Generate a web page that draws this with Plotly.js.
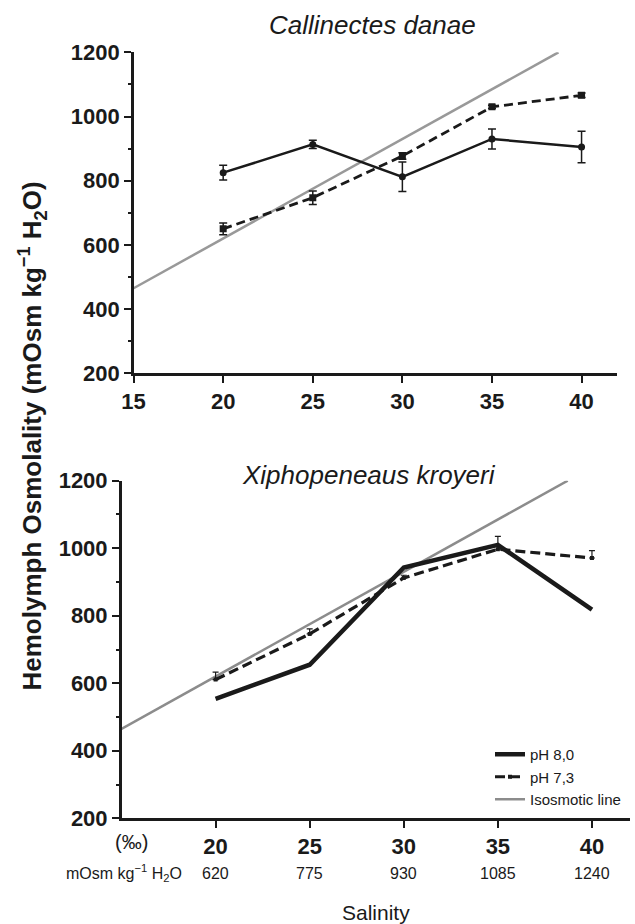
<!DOCTYPE html>
<html>
<head>
<meta charset="utf-8">
<script src="https://cdn.plot.ly/plotly-3.0.1.min.js"></script>
<style>html,body{margin:0;padding:0;background:#fff;}#chart{width:635px;height:924px;}</style>
</head>
<body>
<div id="chart"></div>
<script>
// ---- Data ----
const salinity = [20, 25, 30, 35, 40];
// Callinectes danae
const cdPH80 = [825, 913, 812, 930, 905];
const cdPH80Err = [23, 13, 46, 31, 49];
const cdPH73 = [650, 747, 877, 1030, 1066];
const cdPH73Err = [18, 21, 10, 5, 7];
// Xiphopeneaus kroyeri
const xkPH80 = [554, 655, 943, 1010, 818];
const xkPH73 = [611, 746, 912, 997, 971];
const xkPH73Err = [22, 15, 8, 38, 22];
// Isosmotic line
const isoX = [15, 38.71];
const isoY = [465, 1200];
// Tick labels
const topXTicks = [15, 20, 25, 30, 35, 40];
const botXTicks = [20, 25, 30, 35, 40];
const osmLabels = ['620', '775', '930', '1085', '1240'];
const yTicks = [200, 400, 600, 800, 1000, 1200];

const FONT = 'Liberation Sans, Arial, sans-serif';
const BLACK = '#1a1a1a';
const GREY = '#999999';

const traces = [
  {x: isoX, y: isoY, xaxis: 'x', yaxis: 'y', mode: 'lines', line: {color: GREY, width: 2.5}, showlegend: false, hoverinfo: 'skip'},
  {x: salinity, y: cdPH73, xaxis: 'x', yaxis: 'y', mode: 'lines+markers',
   line: {color: BLACK, width: 2.8, dash: '9px,5px'}, marker: {symbol: 'square', size: 7, color: BLACK},
   error_y: {type: 'data', array: cdPH73Err, visible: true, color: BLACK, thickness: 1.5, width: 4}, showlegend: false},
  {x: salinity, y: cdPH80, xaxis: 'x', yaxis: 'y', mode: 'lines+markers',
   line: {color: BLACK, width: 2.5}, marker: {symbol: 'circle', size: 7, color: BLACK},
   error_y: {type: 'data', array: cdPH80Err, visible: true, color: BLACK, thickness: 1.5, width: 4}, showlegend: false},

  {x: isoX, y: isoY, xaxis: 'x2', yaxis: 'y2', mode: 'lines', name: 'Isosmotic line', legendrank: 3,
   line: {color: '#8c8c8c', width: 2.5}},
  {x: salinity, y: xkPH73, xaxis: 'x2', yaxis: 'y2', mode: 'lines+markers', name: 'pH 7,3', legendrank: 2,
   line: {color: BLACK, width: 3.2, dash: '10px,5px'}, marker: {symbol: 'square', size: 4, color: BLACK},
   error_y: {type: 'data', symmetric: false, array: xkPH73Err, arrayminus: [0,0,0,0,0], visible: true, color: BLACK, thickness: 1.2, width: 3}},
  {x: salinity, y: xkPH80, xaxis: 'x2', yaxis: 'y2', mode: 'lines', name: 'pH 8,0', legendrank: 1,
   line: {color: BLACK, width: 4.5}}
];

const yAxisCommon = {
  range: [200, 1200], tickvals: yTicks, ticks: 'outside', ticklen: 7, tickwidth: 2, tickcolor: BLACK,
  showline: true, linewidth: 2.5, linecolor: BLACK, showgrid: false, zeroline: false,
  tickfont: {family: FONT, size: 22, color: BLACK, weight: 'bold'},
  minor: {ticks: 'outside', ticklen: 3, tickwidth: 2, tickcolor: BLACK, tickvals: [300, 500, 700, 900, 1100], showgrid: false}
};

function ann(o) {
  return Object.assign({showarrow: false, xanchor: 'center', yanchor: 'middle', xref: 'paper', yref: 'paper'}, o);
}

const annotations = [
  ann({text: '<i>Callinectes danae</i>', x: 372.5/635, y: 1 - 25/924, font: {family: FONT, size: 26, color: BLACK}}),
  ann({text: '<i>Xiphopeneaus kroyeri</i>', x: 368.5/635, y: 1 - 475/924, font: {family: FONT, size: 26, color: BLACK}}),
  ann({text: '<b>Hemolymph Osmolality (mOsm kg<sup>\u22121</sup> H<sub>2</sub>O)</b>',
   x: 32/635, y: 1 - 436.5/924, textangle: -90, font: {family: FONT, size: 26, color: BLACK}}),
  ann({text: '(\u2030)', x: 131.7/635, y: 1 - 842/924, font: {family: FONT, size: 20, color: BLACK}}),
  ann({text: 'mOsm kg<sup>\u22121</sup> H<sub>2</sub>O', x: 184/635, y: 1 - 873.3/924, xanchor: 'right',
   font: {family: FONT, size: 16, color: BLACK}}),
  ann({text: 'Salinity', x: 375.5/635, y: 1 - 912/924, font: {family: FONT, size: 21, color: BLACK}})
];
osmLabels.forEach((lab, i) => {
  annotations.push(ann({text: lab, xref: 'x2', x: botXTicks[i], y: 1 - 873.3/924,
    font: {family: FONT, size: 16, color: BLACK}}));
});

const layout = {
  width: 635, height: 924,
  margin: {l: 0, r: 0, t: 0, b: 0},
  paper_bgcolor: '#fff', plot_bgcolor: '#fff',
  font: {family: FONT, color: BLACK},
  xaxis: {
    domain: [133.6/635, 617.4/635], anchor: 'y', range: [15, 42], tickvals: topXTicks,
    ticks: 'outside', ticklen: 7, tickwidth: 2, tickcolor: BLACK,
    showline: true, linewidth: 2.5, linecolor: BLACK, showgrid: false, zeroline: false,
    tickfont: {family: FONT, size: 22, color: BLACK, weight: 'bold'}
  },
  yaxis: Object.assign({}, yAxisCommon, {domain: [1 - 373.3/924, 1 - 52.3/924], anchor: 'x'}),
  xaxis2: {
    domain: [121.5/635, 629.6/635], anchor: 'y2', range: [15, 42], tickvals: botXTicks,
    ticks: 'outside', ticklen: 7, tickwidth: 2, tickcolor: BLACK,
    showline: true, linewidth: 2.5, linecolor: BLACK, showgrid: false, zeroline: false,
    tickfont: {family: FONT, size: 22, color: BLACK, weight: 'bold'}
  },
  yaxis2: Object.assign({}, yAxisCommon, {domain: [1 - 818.3/924, 1 - 480.7/924], anchor: 'x2'}),
  showlegend: true,
  legend: {x: 490/635, y: 1 - 738/924, xanchor: 'left', yanchor: 'top', bgcolor: 'rgba(0,0,0,0)',
    font: {family: FONT, size: 15, color: BLACK}, itemwidth: 30, tracegroupgap: 0},
  annotations: annotations
};

Plotly.newPlot('chart', traces, layout, {displayModeBar: false, staticPlot: true});
</script>
</body>
</html>
